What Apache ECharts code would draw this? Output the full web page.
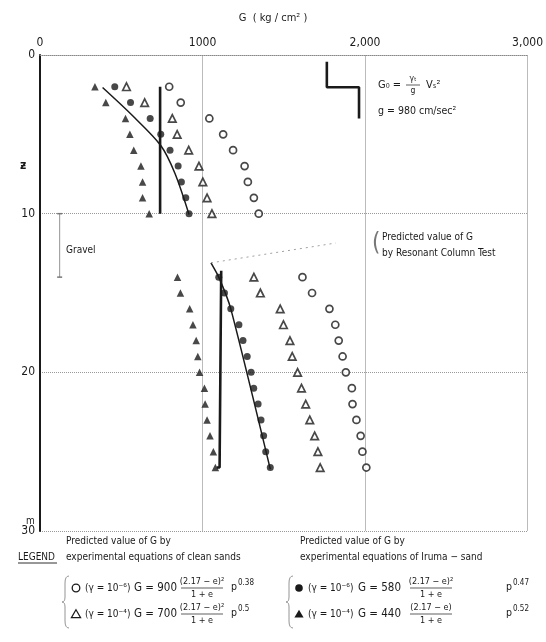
<!DOCTYPE html>
<html>
<head>
<meta charset="utf-8">
<script src="https://cdn.jsdelivr.net/npm/echarts@6/dist/echarts.min.js"></script>
<style>
  html, body { margin: 0; padding: 0; background: #fff; }
  #chart { width: 546px; height: 642px; }
</style>
</head>
<body>
<div id="chart"></div>
<script>
// Shear modulus G (kg/cm²) against depth (m)
const xTickLabels = ['0', '1000', '2,000', '3,000'];
const yTickLabels = ['0', '10', '20', '30'];

// depths of the two sampled layers
const depthUpper = [2, 3, 4, 5, 6, 7, 8, 9, 10];
const depthLower = [14, 15, 16, 17, 18, 19, 20, 21, 22, 23, 24, 25, 26];

// clean sands, γ = 10^-6 (open circles)
const cleanG6Upper = [795, 866, 1042, 1127, 1188, 1259, 1279, 1316, 1346];
const cleanG6Lower = [1615, 1674, 1781, 1817, 1838, 1862, 1882, 1919, 1923, 1947, 1973, 1984, 2008];
// clean sands, γ = 10^-4 (open triangles)
const cleanG4Upper = [532, 644, 814, 844, 915, 978, 1002, 1028, 1058];
const cleanG4Lower = [1316, 1356, 1478, 1498, 1538, 1552, 1585, 1609, 1635, 1660, 1690, 1710, 1724];
// Iruma sand, γ = 10^-6 (filled circles)
const irumaG6Upper = [460, 557, 678, 743, 800, 850, 870, 897, 917];
const irumaG6Lower = [1100, 1135, 1174, 1224, 1249, 1275, 1299, 1315, 1342, 1360, 1376, 1389, 1417];
// Iruma sand, γ = 10^-4 (filled triangles)
const irumaG4Upper = [338, 405, 526, 553, 577, 621, 631, 631, 672];
const irumaG4Lower = [846, 864, 921, 941, 961, 971, 982, 1012, 1016, 1028, 1046, 1067, 1079];

// resonant column test predictions  [G, depth]
const resonantUpper = [[739, 2], [739, 10]];
const resonantLower = [[1115, 13.6], [1105, 26], [1088, 26]];
// G0 = γt/g · Vs² from field velocity  [G, depth]
const fieldFitUpper = [[385, 2.05], [567, 3.8], [743, 5.7], [830, 7.45], [917, 10.05]];
const fieldFitLower = [[1052, 13.1], [1100, 14], [1174, 16], [1417, 26.1]];
// leader from the lower fit to its caption
const leaderLine = [[1052, 13.1], [1820, 11.85]];
// gravel layer extent
const gravelBand = [[121, 10], [121, 14]];
// line key for G0
const g0Key = [[1765, 0.42], [1765, 2.03], [1963, 2.03], [1963, 4.0]];

const FONT = "'DejaVu Sans Condensed', 'Liberation Sans Narrow', sans-serif";
const INK = '#1a1a1a';

function pairs(g, d) { return g.map((v, i) => [v, d[i]]); }

function scatter(name, symbol, size, filled, g1, g2) {
  return {
    name, type: 'scatter', symbol, symbolSize: size,
    data: pairs(g1, depthUpper).concat(pairs(g2, depthLower)),
    itemStyle: filled
      ? { color: INK }
      : { color: '#fff', borderColor: INK, borderWidth: 1.7 },
    z: 5
  };
}

function line(data, width, extra) {
  return Object.assign({
    type: 'line', data, showSymbol: false, symbol: 'none',
    lineStyle: { color: INK, width }, silent: true, z: 4, animation: false
  }, extra || {});
}

function txt(x, y, s, opt) {
  return {
    type: 'text', x, y, silent: true,
    style: Object.assign({
      text: s, fill: INK, font: '10px ' + FONT,
      textVerticalAlign: 'middle', textAlign: 'left'
    }, opt || {})
  };
}

function hline(x1, x2, y, w) {
  return { type: 'line', silent: true,
    shape: { x1, y1: y, x2, y2: y }, style: { stroke: INK, lineWidth: w || 0.8 } };
}

// thin curly brace opening to the right, tip at (x, middle)
function brace(x, yTop, yBot) {
  const m = (yTop + yBot) / 2;
  const st = { stroke: '#888', lineWidth: 0.9, fill: null };
  const curve = (x1, y1, cpx1, cpy1, x2, y2) =>
    ({ type: 'bezierCurve', silent: true, shape: { x1, y1, cpx1, cpy1, x2, y2 }, style: st });
  const seg = (x1, y1, x2, y2) =>
    ({ type: 'line', silent: true, shape: { x1, y1, x2, y2 }, style: st });
  return [
    curve(x + 7, yTop, x + 3, yTop, x + 3, yTop + 7),
    seg(x + 3, yTop + 7, x + 3, m - 5),
    curve(x + 3, m - 5, x + 3, m, x, m),
    curve(x, m, x + 3, m, x + 3, m + 5),
    seg(x + 3, m + 5, x + 3, yBot - 7),
    curve(x + 3, yBot - 7, x + 3, yBot, x + 7, yBot)
  ];
}

// one equation row of the key: marker, strain level, G = c (2.17-e)^n/(1+e) p^m
// pos = [marker, strain text, "G =", fraction centre, p]
function equationRow(pos, y, kind, gamma, coef, numer, expo) {
  const [mx, gx, cx, fx, px] = pos;
  const els = [];
  if (kind === 'circle' || kind === 'dot') {
    els.push({ type: 'circle', silent: true, shape: { cx: mx, cy: y, r: 3.8 },
      style: kind === 'dot' ? { fill: INK } : { fill: '#fff', stroke: INK, lineWidth: 1.3 } });
  } else {
    els.push({ type: 'polygon', silent: true,
      shape: { points: [[mx, y - 4.2], [mx + 4.6, y + 3.6], [mx - 4.6, y + 3.6]] },
      style: kind === 'tri' ? { fill: INK } : { fill: '#fff', stroke: INK, lineWidth: 1.2 } });
  }
  els.push(txt(gx, y, '(γ = 10' + gamma + ')', { font: '10px ' + FONT }));
  els.push(txt(cx, y, 'G = ' + coef, { font: '11.5px ' + FONT }));
  els.push(txt(fx, y - 6, numer, { textAlign: 'center', font: '9px ' + FONT }));
  els.push(hline(fx - 21, fx + 21, y, 0.7));
  els.push(txt(fx, y + 6.5, '1 + e', { textAlign: 'center', font: '9px ' + FONT }));
  els.push(txt(px, y - 1, 'p', { font: '10.5px ' + FONT }));
  els.push(txt(px + 7, y - 5, expo, { font: '8px ' + FONT }));
  return els;
}

const leftRow = [76, 85, 134, 202, 231];
const rightRow = [299, 308, 358, 431, 506];

const graphics = [
  // depth axis unit and symbol
  txt(20, 166, 'ƶ', { font: 'bold 12px ' + FONT }),
  txt(26, 521, 'm', { font: '10px ' + FONT }),
  // gravel layer label
  txt(66, 250, 'Gravel', { font: '10px ' + FONT }),
  // G0 definition
  txt(378, 85, 'G₀ =', { font: '11px ' + FONT }),
  txt(413, 79, 'γₜ', { font: '8.5px ' + FONT, textAlign: 'center' }),
  hline(406, 420, 85, 0.7),
  txt(413, 91, 'g', { font: '8.5px ' + FONT, textAlign: 'center' }),
  txt(426, 85, 'Vₛ²', { font: '11px ' + FONT }),
  txt(378, 111, 'g = 980 cm/sec²', { font: '10.5px ' + FONT }),
  // resonant column caption
  txt(372, 244, '(', { font: '24px ' + FONT, fill: '#777' }),
  txt(382, 237, 'Predicted value of G', { font: '10px ' + FONT }),
  txt(382, 253, 'by Resonant Column Test', { font: '10px ' + FONT }),
  // key
  txt(18, 557, 'LEGEND', { font: '10px ' + FONT }),
  hline(18, 57, 563, 0.9),
  txt(66, 541, 'Predicted value of G by'),
  txt(66, 557, 'experimental equations of clean sands'),
  txt(300, 541, 'Predicted value of G by'),
  txt(300, 557, 'experimental equations of Iruma − sand')
].concat(
  brace(62, 576, 628),
  brace(286, 576, 628),
  equationRow(leftRow, 588, 'circle', '⁻⁶', '900', '(2.17 − e)²', '0.38'),
  equationRow(leftRow, 614, 'otri', '⁻⁴', '700', '(2.17 − e)²', '0.5'),
  equationRow(rightRow, 588, 'dot', '⁻⁶', '580', '(2.17 − e)²', '0.47'),
  equationRow(rightRow, 614, 'tri', '⁻⁴', '440', '(2.17 − e)', '0.52')
);

const chart = echarts.init(document.getElementById('chart'), null, { renderer: 'canvas' });
chart.setOption({
  backgroundColor: '#fff',
  animation: false,
  title: {
    text: 'G  ( kg / cm² )', left: 'center', top: 8,
    textStyle: { fontSize: 11, fontWeight: 'normal', color: INK, fontFamily: FONT }
  },
  grid: { left: 40, top: 55, width: 494, height: 476 },
  xAxis: {
    type: 'value', position: 'top', min: 0, max: 3000, interval: 1000,
    axisLine: { show: true, lineStyle: { color: '#888', type: 'dotted', width: 1 } },
    axisTick: { show: false },
    axisLabel: {
      margin: 6, color: INK, fontSize: 12, fontFamily: FONT,
      formatter: v => xTickLabels[Math.round(v / 1000)]
    },
    splitLine: { show: true, showMinLine: false, lineStyle: { color: '#aaa', type: 'solid', width: 0.8 } }
  },
  yAxis: {
    type: 'value', inverse: true, min: 0, max: 30, interval: 10,
    axisLine: { show: true, lineStyle: { color: INK, width: 2 } },
    axisTick: { show: false },
    axisLabel: {
      margin: 5, color: INK, fontSize: 12, fontFamily: FONT,
      formatter: v => yTickLabels[Math.round(v / 10)]
    },
    splitLine: { show: true, showMinLine: true, lineStyle: { color: '#999', type: 'dotted', width: 1 } }
  },
  series: [
    scatter('clean 1e-6', 'circle', 7, false, cleanG6Upper, cleanG6Lower),
    scatter('clean 1e-4', 'triangle', 7.5, false, cleanG4Upper, cleanG4Lower),
    scatter('Iruma 1e-6', 'circle', 7, true, irumaG6Upper, irumaG6Lower),
    scatter('Iruma 1e-4', 'triangle', 7.5, true, irumaG4Upper, irumaG4Lower),
    line(resonantUpper, 2.6),
    line(resonantLower, 2.6),
    line(fieldFitUpper, 1.5, { smooth: 0.3 }),
    line(fieldFitLower, 1.5, { smooth: 0.2 }),
    line(leaderLine, 0.8, { lineStyle: { color: '#888', width: 0.8, type: [2, 4] } }),
    line(gravelBand, 0.8, { lineStyle: { color: '#777', width: 0.8 },
      showSymbol: true, symbol: 'rect', symbolSize: [5, 1.5], itemStyle: { color: '#777' } }),
    line(g0Key, 2.6)
  ],
  graphic: graphics
});
</script>
</body>
</html>
